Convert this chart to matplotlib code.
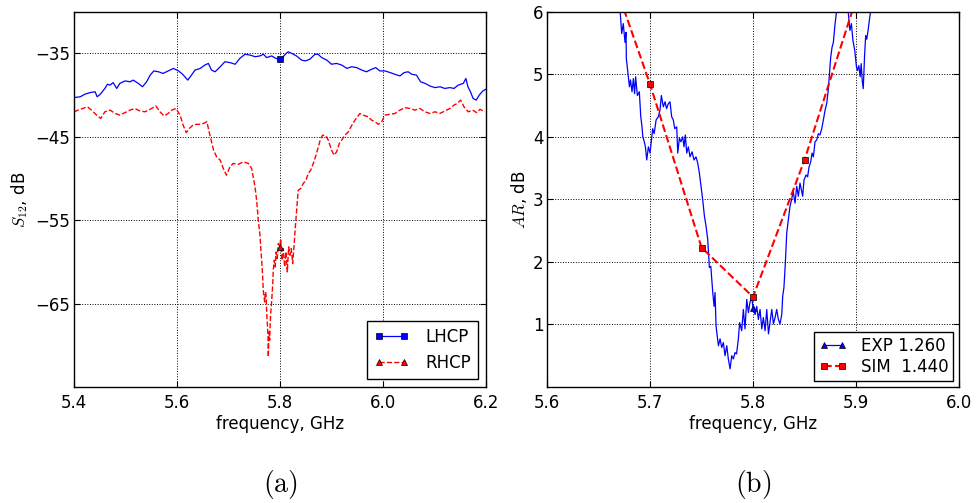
import matplotlib
matplotlib.use("Agg")
import matplotlib.pyplot as plt

# (a) S12 of the two polarisations
lhcp_f = [5.400, 5.412, 5.421, 5.431, 5.441, 5.445, 5.451, 5.460, 5.465, 5.470,
          5.476, 5.483, 5.489, 5.499, 5.509, 5.515, 5.525, 5.533, 5.541, 5.548,
          5.555, 5.564, 5.573, 5.583, 5.593, 5.603, 5.611, 5.621, 5.627, 5.635,
          5.645, 5.654, 5.661, 5.667, 5.674, 5.684, 5.693, 5.703, 5.713, 5.722,
          5.732, 5.742, 5.752, 5.761, 5.768, 5.774, 5.784, 5.792, 5.800, 5.806,
          5.812, 5.816, 5.823, 5.832, 5.842, 5.849, 5.858, 5.868, 5.874, 5.881,
          5.891, 5.900, 5.910, 5.920, 5.930, 5.939, 5.949, 5.959, 5.968, 5.978,
          5.986, 5.994, 6.004, 6.014, 6.023, 6.033, 6.041, 6.049, 6.056, 6.065,
          6.073, 6.082, 6.091, 6.101, 6.111, 6.120, 6.130, 6.138, 6.146, 6.156,
          6.161, 6.165, 6.170, 6.175, 6.181, 6.187, 6.194, 6.200]
lhcp_v = [-40.3, -40.2, -39.9, -39.7, -39.6, -40.2, -39.9, -39.2, -38.7, -38.8,
          -38.5, -39.2, -38.6, -38.3, -38.4, -38.2, -38.6, -39.0, -38.4, -37.6,
          -37.1, -37.2, -37.4, -37.1, -36.8, -37.1, -37.5, -38.2, -37.7, -37.0,
          -36.8, -36.4, -36.2, -37.0, -37.2, -36.6, -36.0, -36.1, -36.3, -35.6,
          -35.1, -35.2, -35.4, -35.3, -35.1, -35.5, -35.3, -35.6, -35.7, -35.4,
          -35.0, -34.8, -35.0, -35.3, -35.8, -35.9, -35.7, -35.1, -35.1, -35.5,
          -35.8, -36.3, -36.2, -36.4, -36.8, -36.6, -36.7, -37.0, -37.2, -36.9,
          -36.7, -37.1, -37.1, -37.3, -37.5, -37.7, -37.3, -37.2, -37.5, -37.6,
          -38.4, -38.6, -38.9, -39.1, -39.0, -39.2, -39.1, -39.2, -38.8, -38.6,
          -38.0, -39.0, -39.6, -40.4, -40.6, -40.0, -39.5, -39.3]

rhcp_f = [5.400, 5.408, 5.417, 5.426, 5.434, 5.444, 5.452, 5.460, 5.470, 5.480,
          5.489, 5.499, 5.509, 5.518, 5.528, 5.538, 5.548, 5.559, 5.567, 5.575,
          5.583, 5.590, 5.598, 5.606, 5.612, 5.618, 5.624, 5.631, 5.638, 5.648,
          5.658, 5.664, 5.671, 5.677, 5.684, 5.690, 5.696, 5.703, 5.709, 5.719,
          5.729, 5.739, 5.745, 5.748, 5.7515, 5.7547, 5.7579, 5.7612, 5.7625, 5.7645,
          5.7664, 5.7676, 5.7690, 5.7703, 5.7716, 5.7728, 5.7741, 5.7755, 5.7768, 5.7774,
          5.7786, 5.7800, 5.7810, 5.7820, 5.7840, 5.7860, 5.7870, 5.7890, 5.7910, 5.7922,
          5.7948, 5.7967, 5.8000, 5.8013, 5.8039, 5.8064, 5.8091, 5.8117, 5.8142, 5.8169,
          5.8194, 5.8220, 5.8247, 5.8272, 5.8298, 5.8324, 5.8355, 5.8402, 5.8452, 5.8505,
          5.8550, 5.8596, 5.8647, 5.8700, 5.8744, 5.8790, 5.8829, 5.8893, 5.8938, 5.9003,
          5.9049, 5.9100, 5.9152, 5.9198, 5.9262, 5.9327, 5.9360, 5.9456, 5.9553, 5.9617,
          5.9714, 5.9780, 5.9845, 5.9910, 5.9975, 6.0040, 6.0136, 6.0233, 6.0330, 6.0427,
          6.0524, 6.0620, 6.0718, 6.0816, 6.0913, 6.1010, 6.1107, 6.1204, 6.1300, 6.1379,
          6.1443, 6.1510, 6.1573, 6.1657, 6.1742, 6.1820, 6.1884, 6.1980]
rhcp_v = [-42.0, -41.8, -41.6, -41.4, -41.8, -42.4, -42.8, -42.0, -41.8, -42.2,
          -42.4, -42.1, -41.8, -41.6, -41.9, -42.0, -41.7, -41.3, -42.0, -42.5,
          -42.2, -41.8, -41.6, -42.4, -43.6, -44.5, -44.0, -43.6, -43.5, -43.5,
          -43.2, -44.8, -46.6, -47.4, -47.8, -48.8, -49.6, -48.6, -48.2, -48.3,
          -48.0, -48.2, -48.8, -49.8, -51.0, -52.6, -55.0, -56.8, -58.2, -59.8,
          -61.8, -63.4, -64.2, -64.8, -63.6, -63.8, -65.8, -67.4, -69.0, -71.4,
          -68.4, -69.4, -67.4, -66.2, -64.6, -62.6, -61.0, -59.8, -60.6, -58.8,
          -59.6, -57.8, -58.2, -57.2, -59.8, -58.4, -60.6, -58.8, -61.2, -58.2,
          -59.2, -58.4, -60.2, -58.2, -55.8, -53.8, -51.4, -51.2, -50.6, -50.2,
          -49.4, -49.0, -48.2, -47.2, -46.2, -45.2, -44.8, -44.9, -45.4, -46.6,
          -47.2, -46.8, -45.8, -45.4, -44.8, -44.4, -44.0, -43.0, -42.2, -42.4,
          -42.6, -43.0, -43.2, -43.5, -43.2, -42.4, -42.3, -42.2, -41.8, -41.5,
          -41.6, -41.8, -41.6, -42.0, -42.2, -42.0, -42.2, -41.9, -41.6, -41.2,
          -41.0, -40.6, -41.4, -42.0, -41.8, -42.1, -41.7, -42.0]

# (b) axial ratio
exp_f = [5.600, 5.650, 5.665, 5.671, 5.6725, 5.674, 5.6757, 5.6767, 5.677, 5.680,
         5.681, 5.6825, 5.6838, 5.685, 5.686, 5.6877, 5.6896, 5.691, 5.692, 5.693,
         5.6944, 5.6955, 5.6968, 5.6984, 5.700, 5.7016, 5.7026, 5.704, 5.7059, 5.708,
         5.7097, 5.711, 5.7129, 5.7146, 5.716, 5.7178, 5.7194, 5.721, 5.7226, 5.724,
         5.7259, 5.7269, 5.7285, 5.730, 5.7317, 5.733, 5.7343, 5.7356, 5.7372, 5.7388,
         5.7408, 5.7427, 5.7446, 5.7463, 5.7479, 5.7495, 5.7511, 5.7528, 5.7544, 5.756,
         5.7576, 5.759, 5.7609, 5.7622, 5.7631, 5.7641, 5.7654, 5.7664, 5.768, 5.7696,
         5.7712, 5.7728, 5.7745, 5.776, 5.7777, 5.7793, 5.7809, 5.7825, 5.784, 5.7857,
         5.787, 5.789, 5.7906, 5.7922, 5.7939, 5.7955, 5.797, 5.7987, 5.800, 5.802,
         5.8036, 5.8052, 5.8068, 5.8085, 5.810, 5.8117, 5.8133, 5.815, 5.8165, 5.8182,
         5.8198, 5.8214, 5.823, 5.8246, 5.8262, 5.8279, 5.8288, 5.830, 5.8314, 5.8327,
         5.8343, 5.8359, 5.8375, 5.839, 5.8408, 5.8424, 5.844, 5.8456, 5.8472, 5.8482,
         5.8495, 5.8515, 5.853, 5.8544, 5.856, 5.8573, 5.8586, 5.8602, 5.8618, 5.8634,
         5.865, 5.8667, 5.8683, 5.870, 5.8715, 5.873, 5.874, 5.8754, 5.8767, 5.878,
         5.8796, 5.8812, 5.887, 5.8923, 5.894, 5.8955, 5.897, 5.8988, 5.9004, 5.9014,
         5.9027, 5.904, 5.905, 5.906, 5.907, 5.9084, 5.9094, 5.9104, 5.9117, 5.9133,
         5.9143, 5.918, 5.950, 6.000]
exp_v = [9.0, 7.4, 6.5, 6.0, 5.65, 5.81, 5.51, 5.67, 5.25, 4.80,
         4.91, 4.72, 4.93, 4.69, 4.96, 4.66, 4.72, 4.32, 4.19, 4.00,
         3.92, 3.84, 3.63, 3.84, 3.74, 3.98, 4.13, 4.05, 4.27, 4.32,
         4.43, 4.66, 4.48, 4.56, 4.45, 4.53, 4.56, 4.32, 4.27, 4.13,
         4.16, 3.74, 3.98, 3.92, 4.00, 3.84, 4.03, 3.74, 3.84, 3.68,
         3.76, 3.63, 3.68, 3.58, 3.42, 3.21, 3.00, 2.73, 2.57, 2.36,
         1.91, 1.93, 1.51, 1.29, 1.51, 0.98, 0.79, 0.66, 0.77, 0.63,
         0.71, 0.50, 0.66, 0.45, 0.29, 0.50, 0.45, 0.55, 0.53, 0.76,
         1.03, 0.90, 1.24, 0.93, 1.40, 1.19, 1.35, 1.45, 1.26, 1.16,
         1.29, 1.08, 1.24, 0.93, 1.11, 0.90, 1.24, 0.85, 1.03, 1.24,
         1.01, 1.11, 1.24, 1.08, 1.01, 1.16, 1.45, 1.59, 1.99, 2.46,
         2.67, 2.89, 3.00, 3.13, 2.94, 3.21, 3.05, 3.26, 3.13, 3.05,
         3.31, 3.39, 3.36, 3.52, 3.60, 3.74, 3.68, 3.92, 3.95, 4.05,
         4.03, 4.13, 4.27, 4.43, 4.53, 4.74, 4.96, 5.27, 5.43, 5.51,
         5.80, 6.02, 6.5, 6.02, 5.70, 5.81, 5.54, 5.38, 5.12, 5.06,
         5.14, 4.96, 5.17, 4.90, 4.77, 5.33, 5.62, 5.56, 5.70, 5.91,
         6.02, 6.6, 8.0, 9.0]

sim_f = [5.65, 5.70, 5.75, 5.80, 5.85, 5.90]
sim_v = [7.2, 4.84, 2.23, 1.44, 3.63, 6.2]

plt.rcParams.update({
    'mathtext.fontset': 'cm',
    'font.size': 12,
    'xtick.direction': 'in', 'ytick.direction': 'in',
    'xtick.top': True, 'ytick.right': True,
    'xtick.major.size': 4, 'ytick.major.size': 4,
    'xtick.major.pad': 5, 'ytick.major.pad': 2.5,
    'axes.linewidth': 1.0,
})

fig = plt.figure(figsize=(9.76, 5.03), dpi=100)
ax1 = fig.add_axes([0.0758, 0.2306, 0.4221, 0.7461])
ax2 = fig.add_axes([0.5605, 0.2306, 0.4221, 0.7461])

i58 = lhcp_f.index(5.800)
ax1.plot(lhcp_f, lhcp_v, 'b-', lw=0.9, marker='s', ms=5, mfc='b', mec='k',
         mew=0.5, markevery=[i58], label='LHCP')
j58 = rhcp_f.index(5.8000)
ax1.plot(rhcp_f, rhcp_v, 'r--', lw=1.0, marker='^', ms=5, mfc='r', mec='k',
         mew=0.5, markevery=[j58], label='RHCP')
ax1.set_xlim(5.4, 6.2)
ax1.set_ylim(-75, -30)
ax1.set_xticks([5.4, 5.6, 5.8, 6.0, 6.2])
ax1.set_yticks([-35, -45, -55, -65])
ax1.grid(True, color='k', linestyle=':', lw=0.7)
ax1.set_xlabel('frequency, GHz', labelpad=2)
ax1.set_ylabel(r'$S_{12}$, dB')
ax1.legend(loc='lower right', numpoints=2, handlelength=2.1, handletextpad=1.0,
           fancybox=False, edgecolor='k', framealpha=1, borderaxespad=0.5)

k58 = exp_f.index(5.800)
ax2.plot(exp_f, exp_v, 'b-', lw=0.9, marker='^', ms=5, mfc='b', mec='k',
         mew=0.5, markevery=[k58], label='EXP 1.260')
ax2.plot(sim_f, sim_v, 'r--', lw=1.5, marker='s', ms=5, mfc='r', mec='k',
         mew=0.5, label='SIM  1.440')
ax2.set_xlim(5.6, 6.0)
ax2.set_ylim(0, 6)
ax2.set_xticks([5.6, 5.7, 5.8, 5.9, 6.0])
ax2.set_yticks([1, 2, 3, 4, 5, 6])
ax2.grid(True, color='k', linestyle=':', lw=0.7)
ax2.set_xlabel('frequency, GHz', labelpad=2)
ax2.set_ylabel(r'$AR$, dB', labelpad=3)
ax2.legend(loc='lower right', numpoints=2, handlelength=1.7, fancybox=False,
           edgecolor='k', framealpha=1, borderaxespad=0.35, labelspacing=0.2,
           borderpad=0.3)

fig.text(0.0758 + 0.4221 / 2, 0.036, r'$\mathrm{(a)}$', fontsize=20,
         ha='center', va='center')
fig.text(0.5605 + 0.4221 / 2, 0.036, r'$\mathrm{(b)}$', fontsize=20,
         ha='center', va='center')

fig.savefig('out.png', dpi=100)
